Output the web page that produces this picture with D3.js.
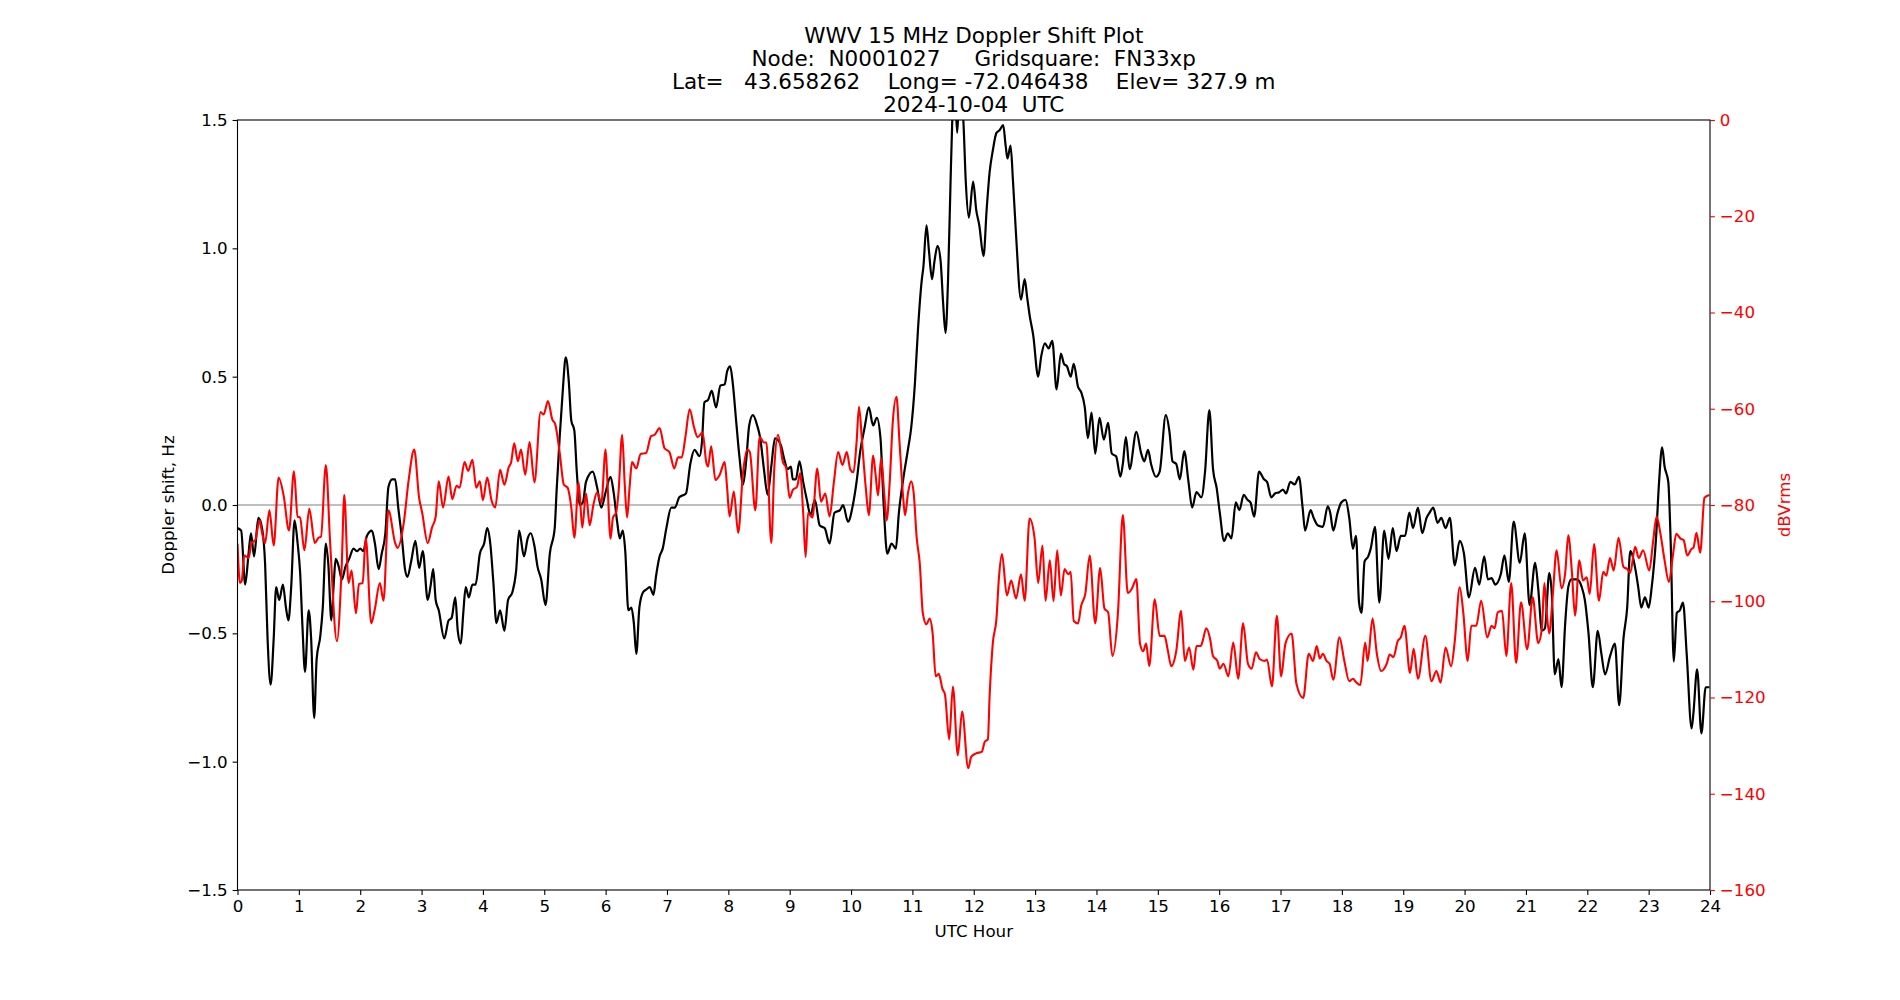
<!DOCTYPE html>
<html>
<head>
<meta charset="UTF-8">
<script src="https://cdn.jsdelivr.net/npm/d3@7"></script>
<style>
html, body { margin:0; padding:0; background:#fff; }
svg { font-family: "DejaVu Sans", sans-serif; }
text { white-space: pre; }
</style>
</head>
<body>
<svg id="chart" width="1900" height="1000"></svg>
<script>
// title lines
var titleLines = [
  "WWV 15 MHz Doppler Shift Plot",
  "Node:  N0001027     Gridsquare:  FN33xp",
  "Lat=   43.658262    Long= -72.046438    Elev= 327.9 m",
  "2024-10-04  UTC"
];

var hourTicks = d3.range(0, 25);
var dopplerTicks = [-1.5, -1.0, -0.5, 0.0, 0.5, 1.0, 1.5];
var dbTicks = [0, -20, -40, -60, -80, -100, -120, -140, -160];

// doppler shift, [UTC hour, Hz]
var dopplerPts = [
  [0,-0.09],[0.06,-0.10],[0.125,-0.31],[0.18,-0.19],[0.22,-0.11],[0.27,-0.20],[0.34,-0.05],[0.40,-0.09],
  [0.45,-0.23],[0.49,-0.52],[0.54,-0.70],[0.59,-0.52],[0.63,-0.32],[0.68,-0.37],[0.74,-0.31],[0.79,-0.40],
  [0.83,-0.45],[0.875,-0.32],[0.93,-0.06],[0.98,-0.15],[1.02,-0.26],[1.06,-0.48],[1.10,-0.65],[1.16,-0.41],
  [1.20,-0.52],[1.25,-0.83],[1.29,-0.60],[1.35,-0.51],[1.39,-0.40],[1.44,-0.15],[1.48,-0.23],[1.53,-0.45],
  [1.57,-0.30],[1.60,-0.21],[1.65,-0.24],[1.70,-0.29],[1.76,-0.24],[1.82,-0.21],[1.89,-0.17],[1.95,-0.18],
  [2.0,-0.17],[2.05,-0.18],[2.11,-0.12],[2.19,-0.10],[2.24,-0.15],[2.30,-0.25],[2.35,-0.19],[2.41,-0.11],
  [2.46,0.07],[2.52,0.10],[2.57,0.10],[2.62,-0.01],[2.68,-0.13],[2.73,-0.25],[2.77,-0.28],[2.83,-0.22],
  [2.90,-0.14],[2.96,-0.245],[3.02,-0.18],[3.10,-0.37],[3.15,-0.31],[3.19,-0.25],[3.23,-0.37],[3.28,-0.41],
  [3.37,-0.52],[3.44,-0.45],[3.49,-0.44],[3.55,-0.36],[3.59,-0.49],[3.64,-0.54],[3.68,-0.42],[3.72,-0.32],
  [3.77,-0.36],[3.83,-0.31],[3.88,-0.31],[3.95,-0.19],[4.02,-0.15],[4.07,-0.09],[4.12,-0.15],[4.17,-0.30],
  [4.22,-0.46],[4.28,-0.41],[4.35,-0.49],[4.41,-0.37],[4.48,-0.34],[4.54,-0.26],[4.59,-0.10],[4.67,-0.20],
  [4.73,-0.13],[4.78,-0.11],[4.84,-0.16],[4.89,-0.24],[4.95,-0.29],[5.02,-0.39],[5.09,-0.19],[5.17,-0.09],
  [5.20,0.05],[5.25,0.26],[5.30,0.44],[5.35,0.575],[5.40,0.48],[5.44,0.33],[5.49,0.29],[5.53,0.13],
  [5.58,0.0],[5.63,0.01],[5.68,0.09],[5.79,0.13],[5.86,0.07],[5.93,-0.01],[6.00,0.05],[6.08,0.11],
  [6.13,0.05],[6.19,-0.07],[6.23,-0.13],[6.28,-0.10],[6.32,-0.18],[6.37,-0.41],[6.42,-0.40],[6.46,-0.46],
  [6.50,-0.58],[6.55,-0.40],[6.61,-0.34],[6.66,-0.33],[6.72,-0.32],[6.78,-0.35],[6.82,-0.28],[6.88,-0.20],
  [6.93,-0.17],[6.99,-0.09],[7.07,-0.01],[7.13,-0.01],[7.20,0.03],[7.31,0.045],[7.38,0.16],[7.45,0.215],
  [7.53,0.19],[7.57,0.245],[7.61,0.40],[7.67,0.41],[7.73,0.445],[7.80,0.38],[7.87,0.465],[7.94,0.47],
  [7.98,0.52],[8.03,0.54],[8.07,0.48],[8.13,0.32],[8.18,0.19],[8.24,0.08],[8.29,0.17],[8.34,0.31],
  [8.40,0.35],[8.47,0.31],[8.52,0.26],[8.58,0.14],[8.64,0.04],[8.70,0.15],[8.76,0.26],[8.82,0.25],
  [8.86,0.23],[8.91,0.18],[8.97,0.14],[9.02,0.15],[9.05,0.10],[9.10,0.10],[9.16,0.17],[9.22,0.09],
  [9.28,0.02],[9.34,-0.04],[9.41,0.02],[9.49,-0.08],[9.57,-0.09],[9.65,-0.15],[9.73,-0.03],[9.82,-0.02],
  [9.87,0.00],[9.95,-0.065],[10.03,0.00],[10.09,0.09],[10.15,0.21],[10.22,0.30],[10.29,0.38],[10.36,0.31],
  [10.42,0.34],[10.48,0.26],[10.53,0.01],[10.59,-0.19],[10.66,-0.15],[10.73,-0.17],[10.78,-0.03],[10.85,0.10],
  [10.93,0.22],[10.98,0.30],[11.04,0.47],[11.09,0.68],[11.15,0.87],[11.18,0.93],[11.23,1.09],[11.27,0.99],
  [11.32,0.88],[11.36,0.95],[11.41,1.01],[11.46,0.95],[11.50,0.79],[11.54,0.67],[11.58,0.87],[11.62,1.24],
  [11.65,1.5],[11.69,1.62],[11.73,1.45],[11.77,1.62],[11.83,1.50],[11.87,1.26],[11.92,1.12],[11.99,1.26],
  [12.04,1.15],[12.09,1.09],[12.16,0.97],[12.21,1.15],[12.26,1.30],[12.31,1.38],[12.37,1.45],[12.42,1.46],
  [12.48,1.48],[12.52,1.40],[12.55,1.35],[12.60,1.40],[12.64,1.26],[12.69,1.05],[12.77,0.80],[12.83,0.88],
  [12.87,0.81],[12.91,0.74],[12.97,0.66],[13.05,0.50],[13.10,0.58],[13.16,0.63],[13.22,0.61],[13.28,0.64],
  [13.35,0.45],[13.42,0.59],[13.47,0.55],[13.52,0.54],[13.58,0.50],[13.63,0.55],[13.70,0.46],[13.75,0.44],
  [13.81,0.38],[13.86,0.26],[13.92,0.36],[13.98,0.20],[14.05,0.34],[14.12,0.255],[14.19,0.32],[14.25,0.20],
  [14.32,0.19],[14.39,0.11],[14.43,0.16],[14.48,0.265],[14.54,0.14],[14.65,0.285],[14.73,0.20],[14.78,0.17],
  [14.84,0.215],[14.89,0.16],[14.97,0.11],[15.03,0.13],[15.13,0.35],[15.19,0.285],[15.24,0.17],[15.30,0.16],
  [15.36,0.10],[15.43,0.21],[15.50,0.09],[15.56,-0.01],[15.63,0.05],[15.71,0.03],[15.77,0.13],[15.84,0.37],
  [15.90,0.14],[15.96,0.065],[16.01,-0.03],[16.08,-0.14],[16.14,-0.11],[16.20,-0.13],[16.27,0.01],[16.33,-0.02],
  [16.40,0.04],[16.46,0.02],[16.51,0.01],[16.57,-0.045],[16.65,0.13],[16.73,0.10],[16.78,0.09],[16.85,0.03],
  [16.91,0.045],[16.98,0.05],[17.04,0.06],[17.09,0.045],[17.16,0.09],[17.23,0.08],[17.30,0.11],[17.36,-0.01],
  [17.40,-0.10],[17.49,-0.02],[17.54,-0.05],[17.61,-0.08],[17.69,-0.085],[17.77,-0.005],[17.81,-0.03],[17.86,-0.10],
  [17.93,-0.03],[17.99,0.01],[18.06,0.02],[18.12,-0.05],[18.18,-0.17],[18.23,-0.12],[18.28,-0.38],[18.32,-0.42],
  [18.37,-0.22],[18.43,-0.20],[18.47,-0.17],[18.54,-0.085],[18.61,-0.38],[18.69,-0.10],[18.76,-0.21],[18.83,-0.09],
  [18.89,-0.18],[18.96,-0.12],[19.03,-0.12],[19.10,-0.03],[19.16,-0.09],[19.24,-0.01],[19.31,-0.11],[19.38,-0.05],
  [19.43,-0.03],[19.49,-0.01],[19.56,-0.07],[19.62,-0.05],[19.69,-0.09],[19.76,-0.05],[19.84,-0.235],[19.92,-0.14],
  [19.99,-0.19],[20.07,-0.36],[20.17,-0.245],[20.24,-0.31],[20.32,-0.20],[20.38,-0.29],[20.44,-0.285],[20.50,-0.31],
  [20.59,-0.27],[20.65,-0.196],[20.72,-0.30],[20.80,-0.065],[20.90,-0.225],[20.98,-0.11],[21.06,-0.39],[21.15,-0.225],
  [21.20,-0.325],[21.26,-0.49],[21.31,-0.48],[21.38,-0.265],[21.42,-0.34],[21.47,-0.66],[21.53,-0.60],[21.58,-0.71],
  [21.64,-0.46],[21.69,-0.32],[21.74,-0.29],[21.83,-0.29],[21.91,-0.32],[21.96,-0.37],[22.02,-0.50],[22.09,-0.71],
  [22.17,-0.49],[22.23,-0.58],[22.29,-0.66],[22.37,-0.59],[22.45,-0.54],[22.52,-0.78],[22.59,-0.52],[22.65,-0.40],
  [22.70,-0.18],[22.78,-0.245],[22.83,-0.32],[22.88,-0.40],[22.94,-0.36],[23.00,-0.40],[23.05,-0.32],[23.12,-0.13],
  [23.17,0.09],[23.22,0.225],[23.26,0.15],[23.32,0.09],[23.36,-0.15],[23.41,-0.61],[23.46,-0.42],[23.51,-0.41],
  [23.56,-0.38],[23.62,-0.58],[23.70,-0.87],[23.73,-0.81],[23.79,-0.64],[23.86,-0.89],[23.93,-0.71],[23.99,-0.71]
];

// received power, [UTC hour, dBVrms]
var powerPts = [
  [0,-88],[0.04,-96.2],[0.07,-95.7],[0.11,-90.5],[0.18,-91],[0.23,-87.9],[0.29,-87.3],[0.36,-83.2],
  [0.40,-85.8],[0.45,-87.9],[0.52,-81.1],[0.59,-88.4],[0.67,-74.3],[0.75,-77.9],[0.84,-85.3],[0.92,-73.0],
  [0.98,-82.4],[1.02,-82.6],[1.09,-89.4],[1.17,-80.8],[1.26,-87.9],[1.32,-86.8],[1.36,-86.6],[1.44,-71.7],
  [1.51,-87.9],[1.62,-108.3],[1.70,-92.1],[1.74,-77.9],[1.81,-96.2],[1.86,-93.6],[1.93,-102.5],[1.98,-96.4],
  [2.04,-96.2],[2.09,-86.8],[2.18,-104.6],[2.24,-101.5],[2.32,-96.2],[2.38,-99.9],[2.46,-81.1],[2.57,-87.9],
  [2.61,-88.9],[2.71,-83.7],[2.79,-74.8],[2.88,-68.5],[2.96,-78.5],[3.01,-81.6],[3.10,-87.9],[3.17,-84.7],
  [3.23,-82.4],[3.28,-75.1],[3.35,-80.5],[3.44,-74.1],[3.50,-78.8],[3.57,-76.0],[3.62,-76.4],[3.70,-71.1],
  [3.76,-72.9],[3.83,-70.6],[3.89,-76.4],[3.95,-75.1],[4.00,-79.0],[4.07,-74.3],[4.14,-79.0],[4.20,-80.5],
  [4.28,-72.7],[4.35,-75.8],[4.42,-72.2],[4.46,-71.1],[4.51,-67.2],[4.57,-70.9],[4.62,-68.5],[4.69,-73.7],
  [4.76,-66.9],[4.84,-75.3],[4.94,-60.7],[4.99,-61.2],[5.06,-58.4],[5.13,-62.2],[5.18,-63.3],[5.25,-69.0],
  [5.32,-75.8],[5.38,-76.4],[5.44,-80.5],[5.49,-86.8],[5.56,-75.3],[5.62,-84.7],[5.68,-77.6],[5.74,-84.2],
  [5.80,-80.0],[5.86,-77.4],[5.93,-79.5],[6.00,-68.5],[6.03,-75.3],[6.08,-87.0],[6.12,-82.6],[6.17,-81.6],
  [6.21,-77.4],[6.27,-65.4],[6.31,-75.3],[6.35,-82.6],[6.39,-76.4],[6.43,-71.1],[6.50,-72.4],[6.57,-69.4],
  [6.66,-69.2],[6.74,-65.7],[6.80,-65.4],[6.88,-64.0],[6.96,-68.2],[7.04,-69.0],[7.12,-72.4],[7.18,-70.1],
  [7.24,-70.1],[7.30,-65.9],[7.37,-60.1],[7.44,-63.8],[7.50,-65.9],[7.58,-64.9],[7.64,-71.1],[7.67,-72.0],
  [7.72,-67.8],[7.79,-74.8],[7.86,-73.7],[7.94,-71.1],[7.98,-76.4],[8.02,-82.4],[8.09,-77.2],[8.16,-85.8],
  [8.24,-73.2],[8.31,-68.5],[8.35,-69.0],[8.44,-81.1],[8.51,-65.9],[8.58,-67.0],[8.62,-67.0],[8.70,-87.9],
  [8.75,-72.2],[8.81,-65.4],[8.89,-71.1],[8.94,-72.2],[9.00,-78.5],[9.05,-76.9],[9.12,-76.2],[9.17,-73.4],
  [9.22,-81.6],[9.26,-90.8],[9.30,-81.6],[9.37,-82.6],[9.45,-72.4],[9.51,-79.3],[9.58,-77.6],[9.65,-82.4],
  [9.72,-75.3],[9.79,-69.0],[9.86,-71.7],[9.93,-69.0],[9.99,-72.7],[10.04,-73.2],[10.09,-67.0],[10.13,-59.6],
  [10.18,-67.0],[10.24,-76.4],[10.29,-82.1],[10.36,-69.7],[10.40,-73.7],[10.44,-78.0],[10.49,-70.3],[10.54,-77.4],
  [10.58,-83.2],[10.63,-75.3],[10.68,-62.8],[10.74,-57.5],[10.79,-67.0],[10.85,-78.5],[10.88,-82.1],[10.93,-77.4],
  [10.98,-75.1],[11.02,-77.4],[11.07,-86.8],[11.12,-92.1],[11.17,-102.5],[11.23,-104.8],[11.28,-103.6],[11.33,-106.7],
  [11.38,-115.6],[11.43,-115.1],[11.49,-118.2],[11.53,-119.3],[11.60,-128.7],[11.66,-117.7],[11.74,-132.0],[11.81,-122.9],
  [11.91,-134.7],[11.96,-132.3],[12.04,-131.6],[12.13,-131.3],[12.18,-129.2],[12.23,-128.7],[12.26,-119.3],[12.31,-108.8],
  [12.37,-103.6],[12.41,-95.2],[12.46,-90.2],[12.54,-98.8],[12.61,-95.7],[12.69,-99.4],[12.77,-94.4],[12.83,-99.9],
  [12.91,-82.8],[12.99,-86.8],[13.05,-96.2],[13.12,-88.4],[13.17,-99.9],[13.24,-91.5],[13.30,-100.0],[13.36,-89.4],
  [13.42,-98.8],[13.48,-93.3],[13.54,-94.4],[13.58,-93.9],[13.63,-104.1],[13.70,-104.6],[13.75,-101.0],[13.82,-98.3],
  [13.89,-90.5],[13.98,-104.6],[14.06,-93.1],[14.13,-101.5],[14.19,-102.3],[14.26,-111.4],[14.35,-102.5],[14.43,-82.1],
  [14.51,-98.3],[14.58,-97.3],[14.65,-95.4],[14.71,-108.8],[14.76,-110.4],[14.81,-108.8],[14.86,-113.5],[14.95,-99.6],
  [15.03,-107.2],[15.11,-107.2],[15.16,-110.0],[15.22,-113.5],[15.30,-110.4],[15.38,-102.0],[15.44,-112.4],[15.51,-109.6],
  [15.58,-114.2],[15.63,-109.3],[15.70,-109.3],[15.73,-108.3],[15.79,-105.6],[15.85,-107.7],[15.90,-111.4],[15.97,-112.4],
  [16.01,-114.0],[16.07,-113.0],[16.15,-115.6],[16.23,-108.6],[16.31,-116.1],[16.39,-104.6],[16.47,-113.0],[16.53,-114.0],
  [16.60,-110.6],[16.66,-112.0],[16.74,-112.4],[16.78,-112.1],[16.86,-117.7],[16.94,-103.0],[17.01,-115.6],[17.08,-108.8],
  [17.18,-106.7],[17.26,-117.2],[17.37,-120.1],[17.46,-110.9],[17.53,-112.4],[17.59,-109.3],[17.64,-111.9],[17.69,-110.9],
  [17.75,-112.4],[17.80,-113.0],[17.86,-116.3],[17.96,-107.5],[18.04,-112.4],[18.12,-116.6],[18.18,-116.1],[18.23,-116.8],
  [18.30,-117.4],[18.38,-108.6],[18.42,-112.4],[18.50,-103.6],[18.57,-110.9],[18.64,-114.5],[18.73,-113.0],[18.78,-111.1],
  [18.84,-111.6],[18.91,-108.3],[18.96,-107.5],[19.02,-105.1],[19.11,-114.9],[19.17,-109.9],[19.24,-116.1],[19.36,-107.2],
  [19.46,-116.6],[19.54,-114.5],[19.61,-116.9],[19.69,-109.6],[19.78,-113.5],[19.84,-108.3],[19.92,-97.1],[19.98,-102.5],
  [20.05,-112.4],[20.11,-105.1],[20.19,-105.1],[20.27,-99.9],[20.37,-107.5],[20.44,-105.1],[20.49,-105.6],[20.54,-102.3],
  [20.61,-102.0],[20.68,-111.4],[20.76,-96.2],[20.84,-112.8],[20.92,-100.2],[21.02,-110.0],[21.11,-99.2],[21.20,-108.7],
  [21.26,-105.6],[21.30,-96.2],[21.34,-102.5],[21.38,-106.7],[21.44,-98.3],[21.50,-89.4],[21.58,-97.3],[21.64,-94.1],
  [21.69,-86.3],[21.75,-94.1],[21.80,-103.0],[21.87,-91.5],[21.93,-95.7],[21.99,-95.0],[22.04,-98.5],[22.11,-88.1],
  [22.19,-99.9],[22.26,-93.9],[22.31,-94.7],[22.37,-91.0],[22.43,-93.6],[22.51,-86.8],[22.59,-92.9],[22.65,-93.3],
  [22.70,-94.1],[22.78,-88.7],[22.84,-91.0],[22.91,-89.4],[23.01,-93.6],[23.07,-87.9],[23.13,-82.4],[23.19,-85.8],
  [23.26,-91.5],[23.33,-96.0],[23.40,-90.0],[23.45,-86.0],[23.52,-87.0],[23.57,-87.3],[23.63,-90.5],[23.70,-89.1],
  [23.73,-88.9],[23.78,-85.8],[23.84,-89.9],[23.91,-78.5],[23.99,-77.9]
];

var svg = d3.select("#chart");
// plot box in page pixels (window.top is taken, hence the long names)
var plotLeft = 237.5, plotRight = 1710, plotTop = 120, plotBottom = 890;
var tickLen = 4.9, tickFont = "16.7px";

var x = d3.scaleLinear().domain([0, 24]).range([plotLeft, plotRight]);
var y = d3.scaleLinear().domain([-1.5, 1.5]).range([plotBottom, plotTop]);
var y2 = d3.scaleLinear().domain([-160, 0]).range([plotBottom, plotTop]);

svg.append("defs").append("clipPath").attr("id", "plotclip")
  .append("rect").attr("x", plotLeft).attr("y", plotTop)
  .attr("width", plotRight - plotLeft).attr("height", plotBottom - plotTop);

// zero line
svg.append("line")
  .attr("x1", plotLeft).attr("x2", plotRight)
  .attr("y1", y(0)).attr("y2", y(0))
  .attr("stroke", "#808080").attr("stroke-width", 1.1);

var plot = svg.append("g").attr("clip-path", "url(#plotclip)");

var dopplerLine = d3.line()
  .x(function(d) { return x(d[0]); })
  .y(function(d) { return y(d[1]); })
  .curve(d3.curveMonotoneX);

var powerLine = d3.line()
  .x(function(d) { return x(d[0]); })
  .y(function(d) { return y2(d[1]); })
  .curve(d3.curveMonotoneX);

plot.append("path").datum(dopplerPts)
  .attr("d", dopplerLine)
  .attr("fill", "none").attr("stroke", "#000").attr("stroke-width", 2.2)
  .attr("stroke-linejoin", "round");

plot.append("path").datum(powerPts)
  .attr("d", powerLine)
  .attr("fill", "none").attr("stroke", "#ff0000").attr("stroke-width", 2.1)
  .attr("stroke-linejoin", "round");

// frame
svg.append("rect")
  .attr("x", plotLeft).attr("y", plotTop)
  .attr("width", plotRight - plotLeft).attr("height", plotBottom - plotTop)
  .attr("fill", "none").attr("stroke", "#000").attr("stroke-width", 1.1);

function styleAxis(g, col) {
  g.select(".domain").remove();
  g.selectAll(".tick line").attr("stroke", col).attr("stroke-width", 1.1);
  g.selectAll(".tick text").attr("fill", col)
    .style("font-size", tickFont).style("font-family", "DejaVu Sans");
}

svg.append("g")
  .attr("transform", "translate(0," + plotBottom + ")")
  .call(d3.axisBottom(x).tickValues(hourTicks).tickFormat(d3.format("d"))
    .tickSize(tickLen).tickPadding(4.9))
  .call(styleAxis, "#000");

svg.append("g")
  .attr("transform", "translate(" + plotLeft + ",0)")
  .call(d3.axisLeft(y).tickValues(dopplerTicks).tickFormat(d3.format(".1f"))
    .tickSize(tickLen).tickPadding(4.9))
  .call(styleAxis, "#000");

svg.append("g")
  .attr("transform", "translate(" + plotRight + ",0)")
  .call(d3.axisRight(y2).tickValues(dbTicks).tickFormat(d3.format("d"))
    .tickSize(tickLen).tickPadding(4.9))
  .call(styleAxis, "#ff0000");

// axis labels
svg.append("text")
  .attr("x", (plotLeft + plotRight) / 2).attr("y", 937)
  .attr("text-anchor", "middle").style("font-size", tickFont)
  .text("UTC Hour");

svg.append("text")
  .attr("transform", "translate(174," + (plotTop + plotBottom) / 2 + ") rotate(-90)")
  .attr("text-anchor", "middle").style("font-size", tickFont)
  .text("Doppler shift, Hz");

svg.append("text")
  .attr("transform", "translate(1790," + (plotTop + plotBottom) / 2 + ") rotate(-90)")
  .attr("text-anchor", "middle").style("font-size", tickFont)
  .attr("fill", "#ff0000")
  .text("dBVrms");

// title
svg.append("g").selectAll("text")
  .data(titleLines)
  .enter().append("text")
    .attr("x", (plotLeft + plotRight) / 2)
    .attr("y", function(d, i) { return 42.5 + i * 23; })
    .attr("text-anchor", "middle")
    .style("font-size", "21.5px")
    .text(function(d) { return d; });
</script>
</body>
</html>
